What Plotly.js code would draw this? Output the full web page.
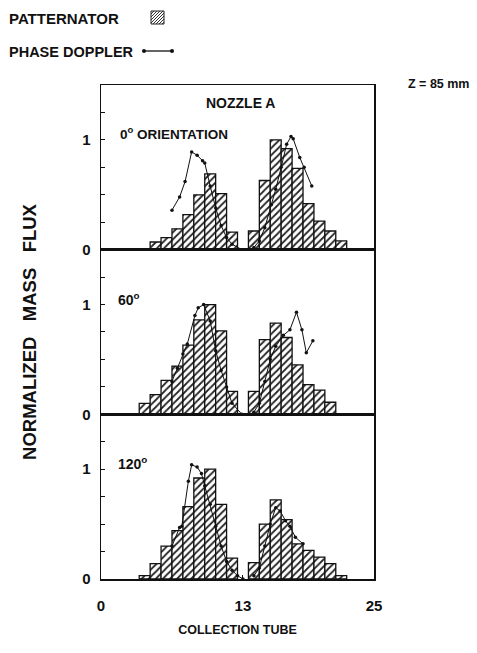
<!DOCTYPE html>
<html>
<head>
<meta charset="utf-8">
<script src="https://cdn.plot.ly/plotly-3.0.1.min.js"></script>
<style>
  html, body { margin: 0; padding: 0; background: #fff; }
  #chart { width: 477px; height: 653px; }
</style>
</head>
<body>
<div id="chart"></div>
<script>
// Patternator (collection tube) normalized mass flux, per orientation
const tubes0   = [5, 6, 7, 8, 9, 10, 11, 12, 14, 15, 16, 17, 18, 19, 20, 21, 22];
const patt0    = [0.07, 0.11, 0.19, 0.32, 0.50, 0.69, 0.51, 0.16, 0.17, 0.63, 1.00, 0.92, 0.74, 0.42, 0.26, 0.17, 0.08];
const tubes60  = [4, 5, 6, 7, 8, 9, 10, 11, 12, 14, 15, 16, 17, 18, 19, 20, 21];
const patt60   = [0.10, 0.18, 0.31, 0.44, 0.63, 0.86, 1.00, 0.76, 0.21, 0.21, 0.68, 0.83, 0.70, 0.45, 0.27, 0.22, 0.11];
const tubes120 = [4, 5, 6, 7, 8, 9, 10, 11, 12, 14, 15, 16, 17, 18, 19, 20, 21, 22];
const patt120  = [0.03, 0.14, 0.30, 0.44, 0.66, 0.92, 1.00, 0.68, 0.19, 0.15, 0.50, 0.72, 0.54, 0.32, 0.26, 0.20, 0.14, 0.03];

// Phase Doppler normalized mass flux (two spray lobes per orientation)
const pdX0a   = [6.5, 7.2, 7.7, 8.3, 8.8, 9.3, 9.5, 10.0, 10.5, 11.0, 11.5, 12.0, 12.9];
const pdY0a   = [0.36, 0.48, 0.62, 0.89, 0.86, 0.81, 0.79, 0.58, 0.38, 0.22, 0.11, 0.05, 0.0];
const pdX0b   = [14.0, 14.5, 15.0, 15.6, 16.0, 16.5, 17.0, 17.4, 17.6, 18.2, 18.6, 19.3];
const pdY0b   = [0.02, 0.08, 0.20, 0.41, 0.55, 0.75, 0.96, 1.03, 1.01, 0.84, 0.75, 0.58];
const pdX60a  = [6.5, 7.0, 7.5, 7.9, 8.6, 8.9, 9.4, 10.0, 10.5, 11.0, 11.5, 12.0, 12.9];
const pdY60a  = [0.30, 0.42, 0.55, 0.64, 0.90, 0.97, 1.00, 0.85, 0.58, 0.40, 0.25, 0.10, 0.0];
const pdX60b  = [14.0, 14.5, 15.0, 15.5, 16.0, 16.7, 17.3, 17.9, 18.4, 18.8, 19.4];
const pdY60b  = [0.02, 0.10, 0.30, 0.50, 0.62, 0.72, 0.77, 0.93, 0.77, 0.56, 0.67];
const pdX120a = [6.5, 7.2, 7.4, 8.0, 8.3, 8.8, 9.2, 9.5, 10.0, 10.5, 11.0, 11.5, 12.0, 12.5, 13.0];
const pdY120a = [0.30, 0.47, 0.48, 0.89, 1.04, 1.02, 0.96, 0.85, 0.68, 0.48, 0.30, 0.16, 0.08, 0.03, 0.0];
const pdX120b = [14.0, 14.5, 15.0, 15.5, 16.0, 16.4, 16.9, 17.3, 17.8, 18.5];
const pdY120b = [0.03, 0.10, 0.30, 0.50, 0.65, 0.62, 0.53, 0.48, 0.38, 0.32];

const FONT = 'Liberation Sans, Arial, Helvetica, sans-serif';

const panels = [
  { tubes: tubes0,   patt: patt0,   pd: [[pdX0a, pdY0a], [pdX0b, pdY0b]],       xa: 'x',  ya: 'y'  },
  { tubes: tubes60,  patt: patt60,  pd: [[pdX60a, pdY60a], [pdX60b, pdY60b]],   xa: 'x2', ya: 'y2' },
  { tubes: tubes120, patt: patt120, pd: [[pdX120a, pdY120a], [pdX120b, pdY120b]], xa: 'x3', ya: 'y3' }
];

const traces = [];
panels.forEach(p => {
  traces.push({
    type: 'bar', x: p.tubes, y: p.patt, xaxis: p.xa, yaxis: p.ya,
    width: 1, showlegend: false, hoverinfo: 'skip',
    marker: {
      color: '#ffffff',
      line: { color: '#111', width: 1.3 },
      pattern: { shape: '/', fgcolor: '#222', bgcolor: '#ffffff', size: 5, solidity: 0.35 }
    }
  });
});
panels.forEach(p => {
  p.pd.forEach(([xs, ys]) => {
    traces.push({
      type: 'scatter', mode: 'lines+markers', x: xs, y: ys, xaxis: p.xa, yaxis: p.ya,
      showlegend: false, hoverinfo: 'skip',
      line: { color: '#111', width: 1 },
      marker: { color: '#111', size: 3.5 }
    });
  });
});

// plot area in pixels: left 101, right 374, top 85, bottom 579
const L = 101, R = 374, T = 85, B = 579;
const px = x => (x - L) / (R - L);
const py = y => (B - y) / (B - T);

const yTickVals = [0, 0.25, 0.5, 0.75, 1, 1.25];
const yTickText = ['0', '', '', '', '1', ''];

function yAxis(domain, anchor) {
  return {
    domain: domain, anchor: anchor, range: [0, 1.5], fixedrange: true,
    showline: true, mirror: true, linecolor: '#111', linewidth: 1.5,
    showgrid: false, zeroline: false,
    tickmode: 'array', tickvals: yTickVals, ticktext: yTickText,
    ticks: 'inside', ticklen: 4, tickwidth: 1, tickcolor: '#111',
    tickfont: { family: FONT, size: 15, color: '#111', weight: 'bold' },
    ticklabelstandoff: 6
  };
}
function xAxis(anchor, showLabels) {
  return {
    anchor: anchor, range: [0, 25], fixedrange: true,
    showline: true, mirror: true, linecolor: '#111', linewidth: 1.5,
    showgrid: false, zeroline: false,
    tickmode: 'array', tickvals: [0, 13, 25],
    ticktext: showLabels ? ['0', '13', '25'] : ['', '', ''],
    ticks: showLabels ? 'inside' : '', ticklen: 4, tickcolor: '#111',
    tickfont: { family: FONT, size: 15, color: '#111', weight: 'bold' },
    ticklabelstandoff: 12
  };
}

const lab = (text, x, y, size, anchor) => ({
  text: text, x: px(x), y: py(y), xref: 'paper', yref: 'paper', showarrow: false,
  font: { family: FONT, size: size, color: '#111', weight: 'bold' },
  xanchor: anchor || 'left', yanchor: 'middle'
});

const layout = {
  width: 477, height: 653,
  paper_bgcolor: '#ffffff', plot_bgcolor: '#ffffff',
  margin: { l: L, r: 477 - R, t: T, b: 653 - B },
  bargap: 0, showlegend: false,
  font: { family: FONT, color: '#111' },
  xaxis:  xAxis('y', false),
  xaxis2: xAxis('y2', false),
  xaxis3: Object.assign(xAxis('y3', true), {
    title: { text: 'COLLECTION TUBE', font: { family: FONT, size: 12.5, color: '#111', weight: 'bold' }, standoff: 12 }
  }),
  yaxis:  yAxis([2 / 3, 1], 'x'),
  yaxis2: Object.assign(yAxis([1 / 3, 2 / 3], 'x2'), {
    title: { text: 'NORMALIZED   MASS   FLUX', font: { family: FONT, size: 18.5, color: '#111', weight: 'bold' }, standoff: 40 }
  }),
  yaxis3: yAxis([0, 1 / 3], 'x3'),
  annotations: [
    lab('NOZZLE A', 240, 103, 14, 'center'),
    lab('0<sup>o</sup> ORIENTATION', 118, 133, 13.5),
    lab('60<sup>o</sup>', 116, 299, 14),
    lab('120<sup>o</sup>', 116, 463, 14),
    lab('PATTERNATOR', 7, 18.5, 15),
    lab('PHASE DOPPLER', 7, 52, 14.5),
    lab('Z = 85 mm', 406, 84, 12.5)
  ],
  shapes: []
};

// legend swatch: hatched square
const sx0 = 151, sx1 = 164, sy0 = 11, sy1 = 24, sw = sx1 - sx0;
layout.shapes.push({ type: 'rect', xref: 'paper', yref: 'paper',
  x0: px(sx0), x1: px(sx1), y0: py(sy1), y1: py(sy0),
  line: { color: '#222', width: 1 }, fillcolor: '#fff' });
for (let k = 3; k < 2 * sw; k += 3) {
  // rising diagonal hatch lines clipped to the square
  const a0 = Math.max(0, k - sw), a1 = Math.min(sw, k);
  layout.shapes.push({ type: 'line', xref: 'paper', yref: 'paper',
    x0: px(sx0 + a0), y0: py(sy0 + (k - a0)), x1: px(sx0 + a1), y1: py(sy0 + (k - a1)),
    line: { color: '#333', width: 1 } });
}
// legend swatch: line with end dots
layout.shapes.push({ type: 'line', xref: 'paper', yref: 'paper',
  x0: px(144), x1: px(172), y0: py(51), y1: py(51), line: { color: '#111', width: 1.3 } });
[144, 172].forEach(cx => layout.shapes.push({ type: 'circle', xref: 'paper', yref: 'paper',
  x0: px(cx - 2), x1: px(cx + 2), y0: py(53), y1: py(49),
  fillcolor: '#111', line: { color: '#111', width: 0 } }));

Plotly.newPlot('chart', traces, layout, { staticPlot: true, displayModeBar: false });
</script>
</body>
</html>
